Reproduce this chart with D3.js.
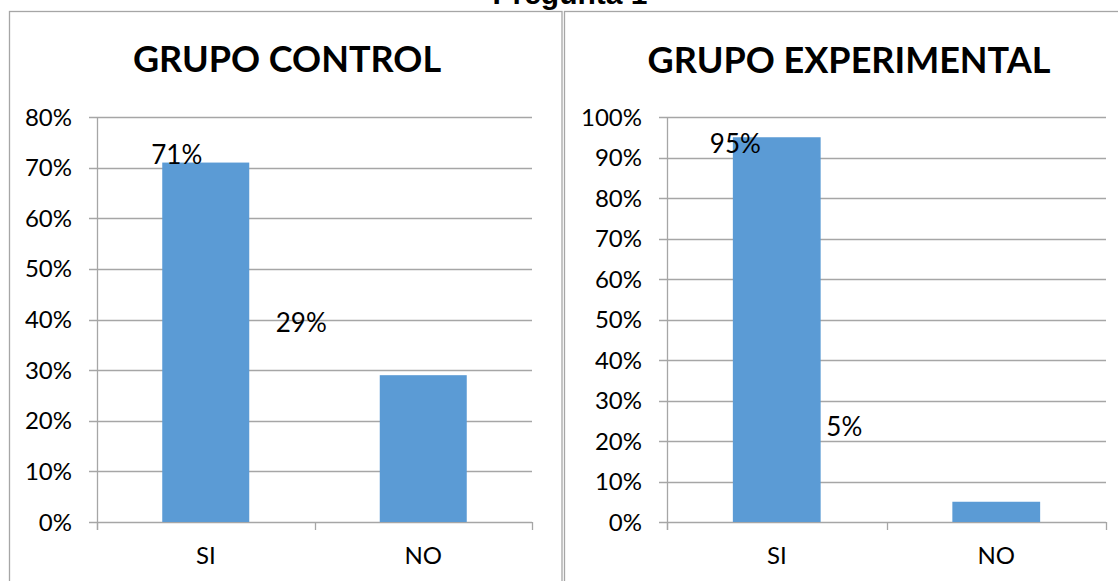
<!DOCTYPE html>
<html>
<head>
<meta charset="utf-8">
<script src="https://cdn.jsdelivr.net/npm/d3@7"></script>
<style>
  html, body { margin: 0; padding: 0; background: #fff; }
  svg { display: block; }
  text { fill: #000; }
</style>
</head>
<body>
<script>
// Survey answers for question 1, per group
const categories = ["SI", "NO"];
const controlValues = [0.71, 0.29];
const experimentalValues = [0.95, 0.05];
const controlTicks = [0, 0.1, 0.2, 0.3, 0.4, 0.5, 0.6, 0.7, 0.8];
const experimentalTicks = [0, 0.1, 0.2, 0.3, 0.4, 0.5, 0.6, 0.7, 0.8, 0.9, 1.0];
const pageTitle = "Pregunta 1";
const controlTitle = "GRUPO CONTROL";
const experimentalTitle = "GRUPO EXPERIMENTAL";

const W = 1118, H = 581;
const BAR = "#5b9bd5";
const GRID = "#a6a6a6";
const FONT = "Lato, 'Open Sans', sans-serif";
const fmt = d3.format(".0%");

const svg = d3.select("body").append("svg")
  .attr("width", W).attr("height", H);

// panel frames
svg.append("rect").attr("x", 9.5).attr("y", 11.5).attr("width", 552.5).attr("height", 600)
  .attr("fill", "none").attr("stroke", GRID).attr("stroke-width", 1.3);
svg.append("rect").attr("x", 564.5).attr("y", 11.5).attr("width", 580).attr("height", 600)
  .attr("fill", "none").attr("stroke", GRID).attr("stroke-width", 1.3);

// page heading (partly clipped at the top edge)
svg.append("text").attr("x", 570).attr("y", 4)
  .attr("text-anchor", "middle")
  .style("font-family", "'Liberation Sans', Arial, sans-serif")
  .style("font-weight", "bold").style("font-size", "30px")
  .text(pageTitle);

function drawPanel(opts) {
  const { title, titleX, titleY, values, ticks, yMax, x0, x1, labelNudge } = opts;
  const yTop = 117, yBottom = 522;
  const g = svg.append("g");

  const x = d3.scaleBand().domain(categories).range([x0, x1])
    .paddingInner(0.6).paddingOuter(0.3);
  const y = d3.scaleLinear().domain([0, yMax]).range([yBottom, yTop]);

  g.append("text").attr("x", titleX).attr("y", titleY)
    .attr("text-anchor", "middle")
    .style("font-family", FONT).style("font-weight", "bold").style("font-size", "36px")
    .text(title);

  // horizontal gridlines with left tick marks
  g.selectAll(".grid").data(ticks).join("line")
    .attr("x1", x0 - 8).attr("x2", x1)
    .attr("y1", d => Math.round(y(d)) + 0.5).attr("y2", d => Math.round(y(d)) + 0.5)
    .attr("stroke", GRID).attr("stroke-width", 1.3);

  // y axis line
  g.append("line").attr("x1", x0 + 0.5).attr("x2", x0 + 0.5)
    .attr("y1", yTop).attr("y2", yBottom + 8)
    .attr("stroke", GRID).attr("stroke-width", 1.3);

  // x axis category boundary ticks
  const bounds = [x0, (x0 + x1) / 2, x1];
  g.selectAll(".xt").data(bounds).join("line")
    .attr("x1", d => Math.round(d) + 0.5).attr("x2", d => Math.round(d) + 0.5)
    .attr("y1", yBottom).attr("y2", yBottom + 8)
    .attr("stroke", GRID).attr("stroke-width", 1.3);

  // y tick labels
  g.selectAll(".yl").data(ticks).join("text")
    .attr("x", x0 - 25).attr("y", d => y(d) + 8.5)
    .attr("text-anchor", "end")
    .style("font-family", FONT).style("font-size", "24px")
    .text(d => fmt(d));

  // bars
  g.selectAll(".bar").data(values).join("rect")
    .attr("x", (d, i) => x(categories[i]))
    .attr("width", x.bandwidth())
    .attr("y", d => y(d))
    .attr("height", d => yBottom - y(d))
    .attr("fill", BAR);

  // category labels
  g.selectAll(".xl").data(categories).join("text")
    .attr("x", d => x(d) + x.bandwidth() / 2).attr("y", 564)
    .attr("text-anchor", "middle")
    .style("font-family", FONT).style("font-size", "24px")
    .text(d => d);

  // value labels
  g.selectAll(".vl").data(values).join("text")
    .attr("x", (d, i) => x(categories[i]) + labelNudge[i][0])
    .attr("y", d => y(d))
    .attr("dy", (d, i) => labelNudge[i][1])
    .attr("text-anchor", "start")
    .style("font-family", FONT).style("font-size", "26px")
    .text(d => fmt(d));
}

drawPanel({
  title: controlTitle, titleX: 287, titleY: 72,
  values: controlValues, ticks: controlTicks, yMax: 0.8,
  x0: 97, x1: 532,
  labelNudge: [[-11, 1.5], [-104, -43]]
});

drawPanel({
  title: experimentalTitle, titleX: 849, titleY: 73,
  values: experimentalValues, ticks: experimentalTicks, yMax: 1.0,
  x0: 667, x1: 1106,
  labelNudge: [[-23, 16], [-126, -66]]
});
</script>
</body>
</html>
